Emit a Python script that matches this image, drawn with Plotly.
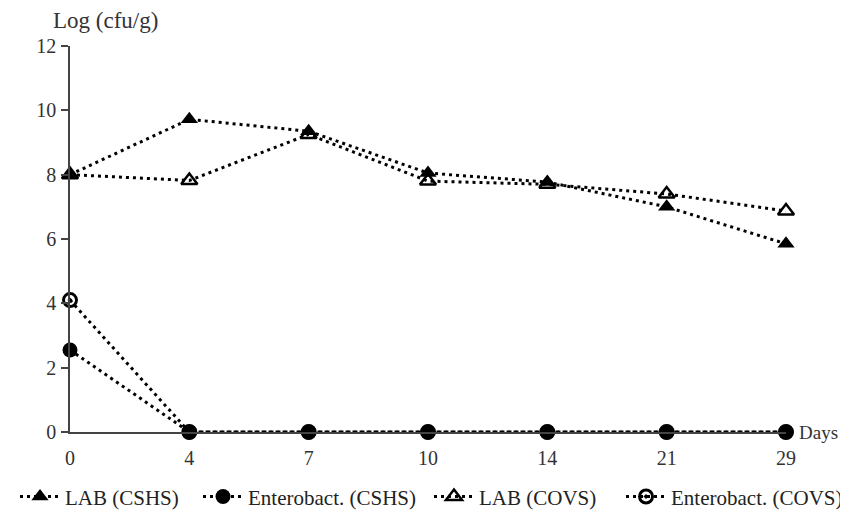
import plotly.graph_objects as go

days = ["0", "4", "7", "10", "14", "21", "29"]
lab_cshs = [8.0, 9.72, 9.35, 8.05, 7.77, 7.0, 5.85]
entero_cshs = [2.55, 0, 0, 0, 0, 0, 0]
lab_covs = [8.0, 7.82, 9.25, 7.8, 7.7, 7.4, 6.87]
entero_covs = [4.1, 0, 0, 0, 0, 0, 0]
y_ticks = [0, 2, 4, 6, 8, 10, 12]

FONT = "Liberation Serif"
line = dict(color="black", width=3, dash="3px,4px")

fig = go.Figure()
fig.add_trace(go.Scatter(x=days, y=lab_cshs, name="LAB (CSHS)", mode="lines+markers",
                         line=line, legend="legend", cliponaxis=False,
                         marker=dict(symbol="triangle-up", size=15, color="black")))
fig.add_trace(go.Scatter(x=days, y=lab_covs, name="LAB (COVS)", mode="lines+markers",
                         line=line, legend="legend3", cliponaxis=False,
                         marker=dict(symbol="triangle-up-open", size=14, color="black",
                                     line=dict(width=2.5, color="black"))))
fig.add_trace(go.Scatter(x=days, y=entero_covs, name="Enterobact. (COVS)", mode="lines+markers",
                         line=line, legend="legend4", cliponaxis=False,
                         marker=dict(symbol="circle-open-dot", size=13, color="black",
                                     line=dict(width=3, color="black"))))
fig.add_trace(go.Scatter(x=days, y=entero_cshs, name="Enterobact. (CSHS)", mode="lines+markers",
                         line=line, legend="legend2", cliponaxis=False,
                         marker=dict(symbol="circle", size=15, color="black")))

def leg(x):
    return dict(orientation="h", x=x, xanchor="left", y=-0.168, yanchor="middle",
                font=dict(family=FONT, size=21, color="#222"), itemwidth=40,
                bgcolor="rgba(0,0,0,0)")

# the page body has an 8px default margin, so the figure is made smaller to fit
fig.update_layout(
    width=840, height=503,
    margin=dict(l=62, r=62, t=38, b=79, autoexpand=False),
    paper_bgcolor="white", plot_bgcolor="white",
    font=dict(family=FONT, size=20, color="#333"),
    showlegend=True,
    legend=leg(-0.0768),
    legend2=leg(0.1788),
    legend3=leg(0.5014),
    legend4=leg(0.7696),
    xaxis=dict(type="category", range=[0, 6], showgrid=False, zeroline=False,
               showline=True, linecolor="#444", linewidth=1.5, ticks="",
               ticklabelstandoff=7,
               tickfont=dict(family=FONT, size=20, color="#333")),
    yaxis=dict(range=[0, 12], tickvals=y_ticks, showgrid=False, zeroline=False,
               showline=True, linecolor="#444", linewidth=1.5, ticks="outside",
               ticklen=7, tickcolor="#444", tickwidth=1.5, ticklabelstandoff=1,
               tickfont=dict(family=FONT, size=20, color="#333")),
    annotations=[
        dict(text="Log (cfu/g)", xref="paper", yref="paper", x=-0.027, y=1.067,
             xanchor="left", yanchor="middle", showarrow=False,
             font=dict(family=FONT, size=23, color="#333")),
        dict(text="Days", xref="paper", yref="paper", x=1.0155, y=0,
             xanchor="left", yanchor="middle", showarrow=False,
             font=dict(family=FONT, size=19, color="#333")),
    ],
)

fig.write_html("out.html")
